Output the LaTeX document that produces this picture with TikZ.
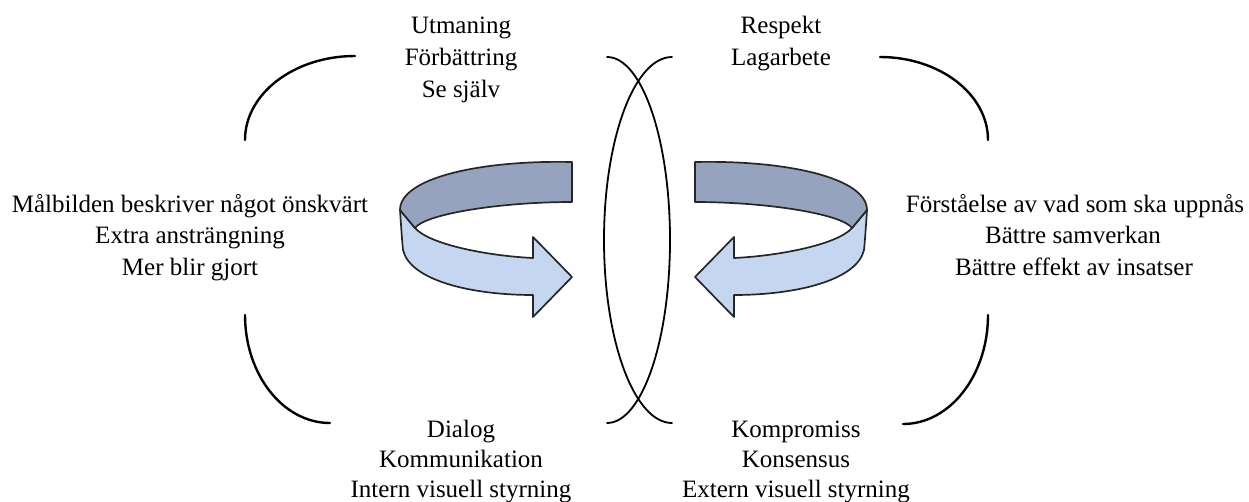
\documentclass[tikz,border=0pt]{standalone}
\usepackage{fontspec}
\setmainfont{Liberation Serif}
\definecolor{bandtop}{RGB}{150,163,190}
\definecolor{bandfront}{RGB}{196,214,240}
\tikzset{
  txt/.style={anchor=base, inner sep=0pt, font=\fontsize{25}{30}\selectfont},
  bracket/.style={line width=2.4pt, line cap=round},
  lensline/.style={line width=1.8pt, line cap=round},
  ribbontop/.style={fill=bandtop, draw=black!85, line width=1.7pt, line join=round},
  ribbonfront/.style={fill=bandfront, draw=black!85, line width=1.7pt, line join=round},
}
\newcommand\myribbonarrow{%
  \path[ribbonfront] (400,210) .. controls (401,225) and (402,240) .. (403,250)
     .. controls (410,280) and (470,295) .. (533,295) -- (533,317) -- (572,277)
     -- (533,237) -- (533,258) .. controls (490,256) and (430,245) .. (415,228) -- cycle;
  \path[ribbontop] (572,162) -- (572,202) .. controls (500,202) and (425,214) .. (415,228)
     -- (400,210) .. controls (400,178) and (480,160) .. (572,162) -- cycle;
}
\begin{document}
\begin{tikzpicture}[x=1pt,y=-1pt]
\useasboundingbox (0,0) rectangle (1249,501);
% lens
\draw[lensline] (607,57) arc[start angle=90,end angle=-90,x radius=63pt,y radius=183pt];
\draw[lensline] (672,57) arc[start angle=90,end angle=270,x radius=68pt,y radius=183pt];
% corner arcs
\draw[bracket] (245,140) arc[start angle=180,end angle=90,x radius=110pt,y radius=84pt];
\draw[bracket] (880,57) arc[start angle=90,end angle=0,x radius=108pt,y radius=83pt];
\draw[bracket] (245,315) arc[start angle=180,end angle=270,x radius=85pt,y radius=108pt];
\draw[bracket] (988,315) arc[start angle=0,end angle=-90,x radius=85pt,y radius=109pt];
% arrows
\myribbonarrow
\begin{scope}[shift={(1267,0)},xscale=-1]
\myribbonarrow
\end{scope}
% texts
\node[txt] (t1) at (461,33) {Utmaning};
\node[txt] (t2) at (461,65) {Förbättring};
\node[txt] (t3) at (461,97) {Se själv};
\node[txt] (r1) at (781,33) {Respekt};
\node[txt] (r2) at (781,65) {Lagarbete};
\node[txt] (l1) at (190,212) {Målbilden beskriver något önskvärt};
\node[txt] (l2) at (190,243) {Extra ansträngning};
\node[txt] (l3) at (190,275) {Mer blir gjort};
\node[txt] (m1) at (1075,212) {Förståelse av vad som ska uppnås};
\node[txt] (m2) at (1073,243) {Bättre samverkan};
\node[txt] (m3) at (1074,275) {Bättre effekt av insatser};
\node[txt] (b1) at (461,437) {Dialog};
\node[txt] (b2) at (461,467) {Kommunikation};
\node[txt] (b3) at (461,497) {Intern visuell styrning};
\node[txt] (k1) at (796,437) {Kompromiss};
\node[txt] (k2) at (796,467) {Konsensus};
\node[txt] (k3) at (796,497) {Extern visuell styrning};
\end{tikzpicture}
\end{document}
